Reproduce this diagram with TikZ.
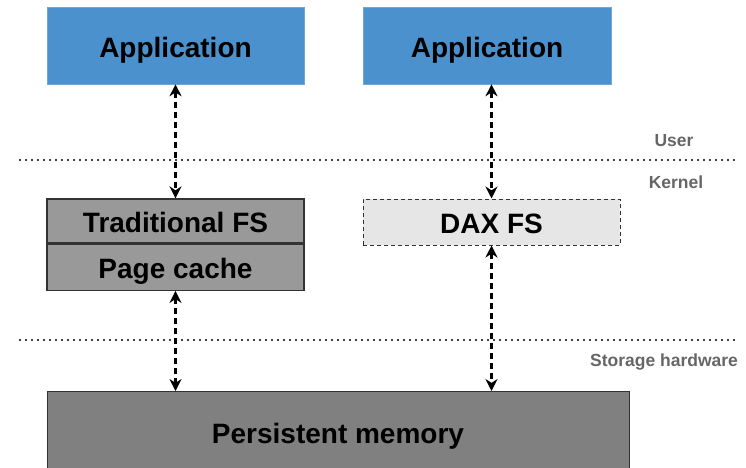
\documentclass[tikz,border=0pt]{standalone}
\usepackage{fontspec}
\setmainfont{Liberation Sans}
\usetikzlibrary{arrows.meta}
\definecolor{appblue}{HTML}{4B91CD}
\definecolor{fsgray}{HTML}{999999}
\definecolor{daxgray}{HTML}{E6E6E6}
\definecolor{pmgray}{HTML}{808080}
\definecolor{labelgray}{HTML}{666666}

\tikzset{
    layerbox/.style={draw=black!80, line width=1.3pt, inner sep=0pt,
        text height=23pt, text depth=0pt,
        font=\bfseries\fontsize{28}{32}\selectfont},
    appbox/.style={layerbox, draw=appblue!80!white, line width=0.6pt, fill=appblue,
        minimum height=77pt},
    link/.style={line width=2.4pt, dash pattern=on 6pt off 4pt,
        {Stealth[length=12pt,width=12pt]}-{Stealth[length=12pt,width=12pt]}},
    border/.style={line width=2.2pt, dash pattern=on 0pt off 6pt, line cap=round},
    ringlabel/.style={text=labelgray, font=\bfseries\fontsize{17.5}{20}\selectfont}
}

\begin{document}
\begin{tikzpicture}[x=1pt, y=-1pt]
    \useasboundingbox (0,0) rectangle (746,467);

    % user space
    \node[appbox, minimum width=257pt] (app1) at (175.5,45.5) {Application};
    \node[appbox, minimum width=248pt] (app2) at (487,45.5) {Application};

    % kernel
    \node[layerbox, fill=fsgray, minimum width=257pt, minimum height=44pt] (tfs) at (175.5,221) {Traditional FS};
    \node[layerbox, fill=fsgray, minimum width=257pt, minimum height=46pt, anchor=north] (pc) at (tfs.south) {Page cache};
    \node[layerbox, fill=daxgray, line width=1pt, dash pattern=on 4pt off 3pt,
        minimum width=257pt, minimum height=46pt] (dax) at (491.5,222) {DAX FS};

    % hardware
    \node[layerbox, fill=pmgray, minimum width=582pt, minimum height=80pt, anchor=north west] (pm) at (47,391) {};
    \node[font=\bfseries\fontsize{28}{32}\selectfont, text height=23pt, text depth=0pt, inner sep=0pt] (pmtext) at (338,432) {Persistent memory};

    % boundaries
    \draw[border] (20,160) -- (737,160);
    \draw[border] (20,340) -- (737,340);
    \node[ringlabel] (user) at (674,141) {User};
    \node[ringlabel] (kernel) at (676,182) {Kernel};
    \node[ringlabel] (hw) at (664,362) {Storage hardware};

    % paths
    \draw[link] (app1.south) -- (tfs.north);
    \draw[link] (app2.south -| dax.north) -- (dax.north);
    \draw[link] (pc.south) -- (pc.south |- pm.north);
    \draw[link] (dax.south) -- (dax.south |- pm.north);
\end{tikzpicture}
\end{document}
